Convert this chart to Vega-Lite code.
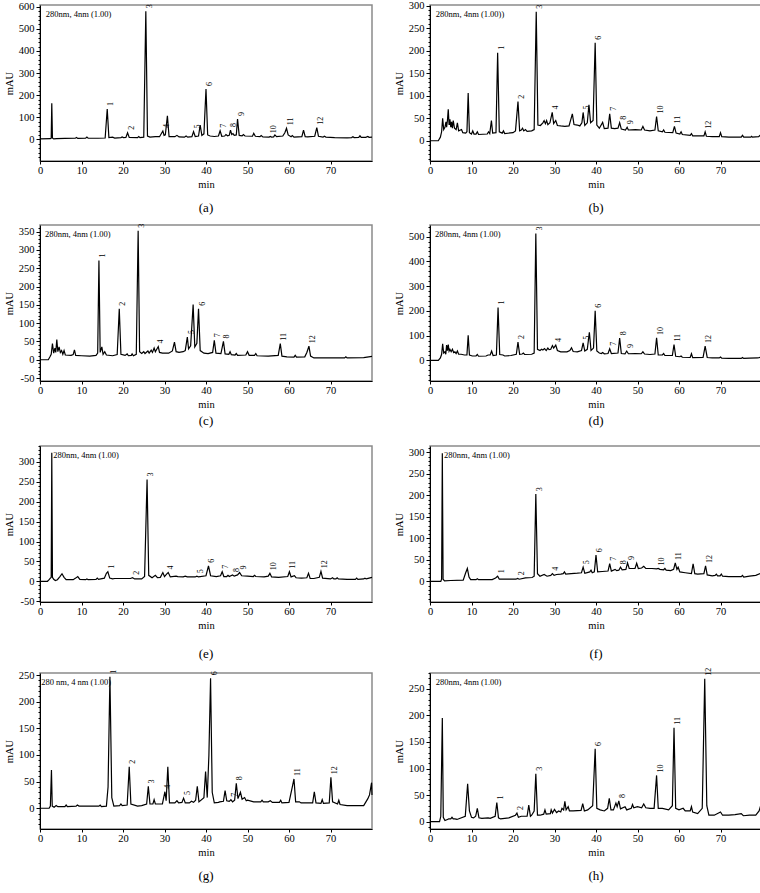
{
"$schema":"https://vega.github.io/schema/vega-lite/v6.json",
"padding":{"left":3,"top":0,"right":0,"bottom":0},
"config":{
 "font":"Liberation Serif",
 "view":{"stroke":"#8a8a8a","strokeWidth":1.5},
 "axis":{"labelFont":"Liberation Serif","labelFontSize":10.5,"labelColor":"#000","titleFont":"Liberation Serif","titleFontSize":10.5,"titleFontWeight":"normal","titleColor":"#000","domainColor":"#000","tickColor":"#000","grid":false,"labelOverlap":false},
 "axisX":{"tickSize":3,"labelPadding":1,"titlePadding":4,"labelFlush":false},
 "axisY":{"titlePadding":4,"labelPadding":2},
 "title":{"font":"Liberation Serif","fontSize":13,"fontWeight":"normal","orient":"bottom","offset":12,"color":"#000","anchor":"middle"},
 "line":{"color":"#000","strokeWidth":1.2},
 "text":{"font":"Liberation Serif","color":"#000"}
},
"datasets":{
"a":[{"t":0,"v":2},{"t":2.5,"v":3},{"t":2.7,"v":5},{"t":2.84,"v":163},{"t":3.0,"v":6},{"t":3.3,"v":2},{"t":4,"v":3},{"t":6,"v":4},{"t":8.5,"v":5},{"t":8.8,"v":8},{"t":9.1,"v":4},{"t":11,"v":5},{"t":11.3,"v":10},{"t":11.6,"v":5},{"t":14,"v":5},{"t":15.7,"v":6},{"t":16.2,"v":137},{"t":16.6,"v":8},{"t":17.5,"v":10},{"t":18,"v":6},{"t":19.5,"v":8},{"t":19.8,"v":11},{"t":20.1,"v":8},{"t":20.7,"v":9},{"t":21.1,"v":30},{"t":21.5,"v":9},{"t":23.5,"v":8},{"t":23.8,"v":13},{"t":24.1,"v":8},{"t":25.0,"v":10},{"t":25.5,"v":580},{"t":25.9,"v":15},{"t":26.5,"v":10},{"t":27.8,"v":12},{"t":28.8,"v":12},{"t":29.6,"v":38},{"t":29.9,"v":18},{"t":30.2,"v":20},{"t":30.7,"v":107},{"t":31.1,"v":12},{"t":32.5,"v":12},{"t":33,"v":18},{"t":33.5,"v":11},{"t":34.8,"v":10},{"t":35.2,"v":15},{"t":35.6,"v":10},{"t":36.6,"v":12},{"t":37.0,"v":35},{"t":37.4,"v":13},{"t":38.2,"v":15},{"t":38.6,"v":65},{"t":39.0,"v":18},{"t":39.5,"v":25},{"t":40.0,"v":228},{"t":40.4,"v":20},{"t":41,"v":15},{"t":42,"v":13},{"t":43.0,"v":15},{"t":43.4,"v":39},{"t":43.8,"v":14},{"t":44.5,"v":15},{"t":44.8,"v":22},{"t":45.2,"v":16},{"t":45.6,"v":18},{"t":45.9,"v":42},{"t":46.2,"v":22},{"t":46.5,"v":26},{"t":46.8,"v":18},{"t":47.3,"v":20},{"t":47.6,"v":92},{"t":48,"v":18},{"t":48.7,"v":16},{"t":49.0,"v":22},{"t":49.4,"v":15},{"t":51.2,"v":14},{"t":51.5,"v":27},{"t":51.9,"v":14},{"t":53,"v":12},{"t":53.3,"v":17},{"t":53.7,"v":11},{"t":55.2,"v":10},{"t":55.5,"v":13},{"t":55.8,"v":10},{"t":56.3,"v":11},{"t":56.6,"v":20},{"t":57,"v":12},{"t":58.5,"v":15},{"t":59.0,"v":30},{"t":59.4,"v":50},{"t":59.8,"v":20},{"t":60.5,"v":12},{"t":60.8,"v":17},{"t":61.2,"v":10},{"t":63.1,"v":12},{"t":63.5,"v":42},{"t":63.9,"v":12},{"t":64.5,"v":11},{"t":66.2,"v":14},{"t":66.7,"v":53},{"t":67.1,"v":14},{"t":68.2,"v":10},{"t":68.5,"v":14},{"t":68.9,"v":10},{"t":71,"v":8},{"t":74,"v":7},{"t":75.1,"v":8},{"t":75.4,"v":12},{"t":75.7,"v":8},{"t":76.8,"v":9},{"t":77.1,"v":16},{"t":77.4,"v":9},{"t":78.5,"v":9},{"t":79,"v":13},{"t":79.3,"v":9},{"t":80,"v":10}],
"la":[{"t":16.2,"v":137,"lab":"1"},{"t":21.1,"v":30,"lab":"2"},{"t":25.5,"v":580,"lab":"3"},{"t":29.6,"v":38,"lab":"4"},{"t":37.0,"v":35,"lab":"5"},{"t":40.0,"v":228,"lab":"6"},{"t":43.4,"v":39,"lab":"7"},{"t":45.9,"v":42,"lab":"8"},{"t":47.6,"v":92,"lab":"9"},{"t":55.5,"v":14,"lab":"10"},{"t":59.4,"v":50,"lab":"11"},{"t":66.7,"v":53,"lab":"12"}],
"b":[{"t":0,"v":0},{"t":2.0,"v":0},{"t":2.5,"v":8},{"t":2.8,"v":20},{"t":3.05,"v":50},{"t":3.3,"v":25},{"t":3.6,"v":30},{"t":3.85,"v":42},{"t":4.0,"v":30},{"t":4.2,"v":45},{"t":4.4,"v":70},{"t":4.6,"v":35},{"t":4.8,"v":48},{"t":5.0,"v":30},{"t":5.2,"v":42},{"t":5.4,"v":28},{"t":5.6,"v":45},{"t":5.9,"v":28},{"t":6.3,"v":25},{"t":6.6,"v":40},{"t":6.9,"v":22},{"t":7.6,"v":25},{"t":7.9,"v":18},{"t":8.6,"v":17},{"t":8.9,"v":20},{"t":9.2,"v":106},{"t":9.5,"v":18},{"t":10.0,"v":15},{"t":10.3,"v":22},{"t":10.6,"v":15},{"t":11.1,"v":15},{"t":11.4,"v":20},{"t":11.7,"v":14},{"t":13.8,"v":15},{"t":14.1,"v":20},{"t":14.4,"v":16},{"t":14.8,"v":45},{"t":15.1,"v":17},{"t":15.9,"v":18},{"t":16.3,"v":196},{"t":16.7,"v":20},{"t":17.4,"v":17},{"t":17.7,"v":22},{"t":18.0,"v":16},{"t":20.0,"v":18},{"t":20.6,"v":22},{"t":21.2,"v":87},{"t":21.6,"v":22},{"t":22.0,"v":24},{"t":22.3,"v":28},{"t":22.6,"v":22},{"t":23.0,"v":25},{"t":23.4,"v":21},{"t":24.5,"v":22},{"t":25.1,"v":25},{"t":25.6,"v":287},{"t":26.0,"v":35},{"t":26.6,"v":34},{"t":27.2,"v":40},{"t":27.5,"v":45},{"t":27.8,"v":38},{"t":28.1,"v":45},{"t":28.4,"v":36},{"t":28.9,"v":40},{"t":29.45,"v":63},{"t":29.8,"v":38},{"t":30.3,"v":45},{"t":30.7,"v":34},{"t":31.5,"v":33},{"t":32.5,"v":32},{"t":33.5,"v":33},{"t":34.3,"v":60},{"t":34.7,"v":36},{"t":35.5,"v":35},{"t":36.1,"v":33},{"t":36.6,"v":40},{"t":36.9,"v":63},{"t":37.3,"v":34},{"t":37.9,"v":40},{"t":38.3,"v":80},{"t":38.7,"v":40},{"t":39.3,"v":45},{"t":39.8,"v":218},{"t":40.2,"v":35},{"t":40.8,"v":28},{"t":41.6,"v":41},{"t":42,"v":27},{"t":42.9,"v":28},{"t":43.3,"v":60},{"t":43.7,"v":28},{"t":44.5,"v":27},{"t":45.3,"v":28},{"t":45.7,"v":40},{"t":46.1,"v":26},{"t":47.1,"v":24},{"t":47.5,"v":30},{"t":47.8,"v":24},{"t":49.5,"v":25},{"t":50.9,"v":24},{"t":51.3,"v":32},{"t":51.7,"v":24},{"t":53,"v":22},{"t":54.2,"v":24},{"t":54.6,"v":54},{"t":55,"v":22},{"t":56.0,"v":20},{"t":56.3,"v":24},{"t":56.6,"v":19},{"t":58.5,"v":18},{"t":58.9,"v":32},{"t":59.3,"v":17},{"t":60.2,"v":15},{"t":60.5,"v":20},{"t":60.8,"v":14},{"t":62.7,"v":12},{"t":63.0,"v":16},{"t":63.3,"v":11},{"t":66.0,"v":11},{"t":66.3,"v":20},{"t":66.6,"v":10},{"t":68,"v":9},{"t":69.7,"v":9},{"t":70.0,"v":18},{"t":70.3,"v":9},{"t":72,"v":8},{"t":75,"v":8},{"t":75.3,"v":12},{"t":75.6,"v":8},{"t":77.3,"v":8},{"t":77.5,"v":10},{"t":77.7,"v":8},{"t":79.2,"v":9},{"t":80,"v":17}],
"lb":[{"t":16.3,"v":196,"lab":"1"},{"t":21.2,"v":87,"lab":"2"},{"t":25.6,"v":287,"lab":"3"},{"t":29.45,"v":63,"lab":"4"},{"t":36.9,"v":63,"lab":"5"},{"t":39.8,"v":218,"lab":"6"},{"t":43.3,"v":60,"lab":"7"},{"t":45.7,"v":40,"lab":"8"},{"t":47.5,"v":30,"lab":"9"},{"t":54.6,"v":54,"lab":"10"},{"t":58.9,"v":32,"lab":"11"},{"t":66.3,"v":20,"lab":"12"}],
"c":[{"t":0,"v":0},{"t":2.0,"v":0},{"t":2.4,"v":8},{"t":2.7,"v":15},{"t":3.0,"v":44},{"t":3.3,"v":18},{"t":3.6,"v":32},{"t":3.8,"v":20},{"t":4.05,"v":55},{"t":4.3,"v":22},{"t":4.6,"v":35},{"t":4.9,"v":20},{"t":5.2,"v":25},{"t":5.5,"v":15},{"t":5.8,"v":25},{"t":6.1,"v":13},{"t":7.5,"v":12},{"t":8.0,"v":14},{"t":8.3,"v":27},{"t":8.6,"v":12},{"t":10,"v":11},{"t":12,"v":10},{"t":13.5,"v":12},{"t":13.9,"v":18},{"t":14.2,"v":271},{"t":14.5,"v":20},{"t":14.9,"v":35},{"t":15.2,"v":15},{"t":15.6,"v":22},{"t":16,"v":13},{"t":17.5,"v":11},{"t":18.6,"v":14},{"t":19.1,"v":139},{"t":19.5,"v":15},{"t":20.5,"v":12},{"t":21.0,"v":16},{"t":21.3,"v":11},{"t":22.0,"v":12},{"t":22.2,"v":16},{"t":22.5,"v":11},{"t":23.2,"v":15},{"t":23.65,"v":352},{"t":24.0,"v":22},{"t":24.5,"v":17},{"t":25.0,"v":22},{"t":25.3,"v":17},{"t":26.0,"v":24},{"t":26.3,"v":18},{"t":26.8,"v":26},{"t":27.1,"v":20},{"t":27.5,"v":32},{"t":27.8,"v":22},{"t":28.2,"v":30},{"t":28.5,"v":36},{"t":28.8,"v":20},{"t":29.5,"v":18},{"t":31.0,"v":18},{"t":31.9,"v":24},{"t":32.4,"v":48},{"t":32.8,"v":22},{"t":33.5,"v":20},{"t":34.5,"v":22},{"t":35.0,"v":25},{"t":35.5,"v":62},{"t":35.8,"v":30},{"t":36.3,"v":38},{"t":36.9,"v":151},{"t":37.3,"v":35},{"t":37.8,"v":45},{"t":38.2,"v":139},{"t":38.6,"v":25},{"t":39.5,"v":18},{"t":40.5,"v":17},{"t":41.6,"v":20},{"t":42.0,"v":53},{"t":42.4,"v":18},{"t":43.6,"v":17},{"t":44.2,"v":50},{"t":44.6,"v":16},{"t":45.5,"v":15},{"t":45.8,"v":22},{"t":46.1,"v":14},{"t":47.0,"v":13},{"t":47.3,"v":17},{"t":47.6,"v":12},{"t":49.6,"v":13},{"t":50.0,"v":22},{"t":50.4,"v":12},{"t":51.7,"v":12},{"t":52.0,"v":17},{"t":52.3,"v":11},{"t":55,"v":10},{"t":57.4,"v":12},{"t":57.9,"v":44},{"t":58.3,"v":10},{"t":59.5,"v":8},{"t":61.2,"v":7},{"t":61.5,"v":12},{"t":61.8,"v":7},{"t":63.8,"v":8},{"t":64.3,"v":20},{"t":64.8,"v":37},{"t":65.2,"v":10},{"t":66,"v":5},{"t":70,"v":5},{"t":73.4,"v":5},{"t":73.7,"v":8},{"t":74.0,"v":5},{"t":78,"v":6},{"t":80,"v":9}],
"lc":[{"t":14.2,"v":271,"lab":"1"},{"t":19.1,"v":139,"lab":"2"},{"t":23.65,"v":352,"lab":"3"},{"t":28.3,"v":36,"lab":"4"},{"t":35.6,"v":62,"lab":"5"},{"t":38.2,"v":139,"lab":"6"},{"t":42.0,"v":53,"lab":"7"},{"t":44.2,"v":50,"lab":"8"},{"t":57.9,"v":44,"lab":"11"},{"t":64.8,"v":37,"lab":"12"}],
"d":[{"t":0,"v":0},{"t":2.0,"v":0},{"t":2.5,"v":10},{"t":2.8,"v":25},{"t":3.05,"v":67},{"t":3.3,"v":30},{"t":3.6,"v":35},{"t":3.8,"v":25},{"t":4.0,"v":62},{"t":4.2,"v":40},{"t":4.4,"v":64},{"t":4.6,"v":38},{"t":4.8,"v":45},{"t":5.1,"v":35},{"t":5.4,"v":45},{"t":5.7,"v":32},{"t":6.0,"v":35},{"t":6.3,"v":28},{"t":6.6,"v":38},{"t":6.9,"v":25},{"t":7.5,"v":25},{"t":8.3,"v":22},{"t":8.9,"v":22},{"t":9.2,"v":102},{"t":9.5,"v":22},{"t":10.2,"v":18},{"t":11.1,"v":18},{"t":11.4,"v":24},{"t":11.7,"v":17},{"t":13.5,"v":18},{"t":14.0,"v":22},{"t":14.5,"v":22},{"t":14.85,"v":38},{"t":15.2,"v":20},{"t":16.0,"v":22},{"t":16.4,"v":214},{"t":16.8,"v":24},{"t":17.6,"v":22},{"t":18.0,"v":18},{"t":19.5,"v":20},{"t":20.8,"v":25},{"t":21.2,"v":74},{"t":21.6,"v":25},{"t":22.2,"v":26},{"t":22.5,"v":30},{"t":22.8,"v":24},{"t":24.5,"v":25},{"t":25.1,"v":30},{"t":25.5,"v":513},{"t":25.9,"v":45},{"t":26.5,"v":40},{"t":26.9,"v":45},{"t":27.2,"v":42},{"t":27.6,"v":48},{"t":28.0,"v":40},{"t":28.4,"v":50},{"t":28.7,"v":44},{"t":29.1,"v":45},{"t":29.5,"v":60},{"t":29.8,"v":50},{"t":30.3,"v":62},{"t":30.7,"v":40},{"t":31.5,"v":35},{"t":33.0,"v":35},{"t":33.7,"v":40},{"t":34.1,"v":51},{"t":34.5,"v":36},{"t":35.5,"v":35},{"t":36.5,"v":40},{"t":36.9,"v":71},{"t":37.3,"v":38},{"t":37.9,"v":45},{"t":38.4,"v":114},{"t":38.8,"v":40},{"t":39.4,"v":50},{"t":39.8,"v":201},{"t":40.2,"v":38},{"t":40.8,"v":30},{"t":41.3,"v":28},{"t":41.6,"v":32},{"t":42,"v":27},{"t":42.9,"v":28},{"t":43.3,"v":47},{"t":43.7,"v":28},{"t":45.3,"v":30},{"t":45.7,"v":90},{"t":46.1,"v":28},{"t":47.0,"v":27},{"t":47.4,"v":38},{"t":47.8,"v":27},{"t":49.5,"v":28},{"t":50.9,"v":27},{"t":51.3,"v":35},{"t":51.7,"v":26},{"t":53,"v":24},{"t":54.2,"v":26},{"t":54.6,"v":91},{"t":55,"v":22},{"t":56.0,"v":22},{"t":56.3,"v":28},{"t":56.6,"v":20},{"t":58.4,"v":20},{"t":58.8,"v":64},{"t":59.2,"v":17},{"t":60.2,"v":15},{"t":60.5,"v":18},{"t":60.8,"v":13},{"t":62.7,"v":12},{"t":63.0,"v":27},{"t":63.3,"v":11},{"t":65.8,"v":12},{"t":66.3,"v":58},{"t":66.8,"v":12},{"t":68,"v":10},{"t":69.7,"v":10},{"t":70.0,"v":14},{"t":70.3,"v":9},{"t":72,"v":8},{"t":75,"v":8},{"t":75.3,"v":12},{"t":75.6,"v":8},{"t":77,"v":9},{"t":79,"v":10},{"t":80,"v":15}],
"ld":[{"t":16.4,"v":214,"lab":"1"},{"t":21.2,"v":74,"lab":"2"},{"t":25.5,"v":513,"lab":"3"},{"t":30.2,"v":62,"lab":"4"},{"t":36.9,"v":71,"lab":"5"},{"t":39.8,"v":201,"lab":"6"},{"t":43.3,"v":47,"lab":"7"},{"t":45.7,"v":90,"lab":"8"},{"t":47.4,"v":38,"lab":"9"},{"t":54.6,"v":91,"lab":"10"},{"t":58.8,"v":64,"lab":"11"},{"t":66.3,"v":58,"lab":"12"}],
"e":[{"t":0,"v":0},{"t":1.8,"v":0},{"t":2.2,"v":4},{"t":2.5,"v":8},{"t":2.7,"v":10},{"t":2.84,"v":323},{"t":3.0,"v":10},{"t":3.3,"v":5},{"t":3.7,"v":2},{"t":4.2,"v":4},{"t":4.8,"v":12},{"t":5.3,"v":19},{"t":5.8,"v":10},{"t":6.3,"v":4},{"t":8.0,"v":4},{"t":8.6,"v":8},{"t":9.1,"v":12},{"t":9.6,"v":5},{"t":11.0,"v":4},{"t":11.3,"v":6},{"t":11.6,"v":4},{"t":13.5,"v":5},{"t":13.8,"v":8},{"t":14.1,"v":5},{"t":15.5,"v":8},{"t":16.0,"v":20},{"t":16.35,"v":24},{"t":16.8,"v":8},{"t":17.5,"v":6},{"t":18.0,"v":7},{"t":20.5,"v":7},{"t":21.8,"v":7},{"t":22.3,"v":9},{"t":22.8,"v":6},{"t":24.5,"v":6},{"t":25.2,"v":12},{"t":25.8,"v":256},{"t":26.2,"v":15},{"t":27.0,"v":9},{"t":27.8,"v":15},{"t":28.3,"v":9},{"t":29.0,"v":10},{"t":29.6,"v":22},{"t":30.0,"v":12},{"t":30.5,"v":18},{"t":30.9,"v":22},{"t":31.4,"v":11},{"t":32.8,"v":13},{"t":33.2,"v":12},{"t":34.5,"v":11},{"t":35.0,"v":13},{"t":35.5,"v":11},{"t":37.4,"v":11},{"t":37.8,"v":13},{"t":38.2,"v":11},{"t":40.0,"v":14},{"t":40.6,"v":39},{"t":41.1,"v":14},{"t":42.5,"v":12},{"t":43.5,"v":14},{"t":43.9,"v":24},{"t":44.3,"v":12},{"t":45.0,"v":12},{"t":45.3,"v":15},{"t":45.6,"v":12},{"t":46.4,"v":16},{"t":46.8,"v":13},{"t":47.6,"v":16},{"t":48.1,"v":22},{"t":48.6,"v":14},{"t":50.0,"v":13},{"t":51.4,"v":12},{"t":51.7,"v":15},{"t":52.0,"v":12},{"t":54,"v":11},{"t":55.0,"v":13},{"t":55.4,"v":20},{"t":55.8,"v":11},{"t":57.5,"v":10},{"t":59.7,"v":12},{"t":60.1,"v":24},{"t":60.5,"v":11},{"t":61.3,"v":14},{"t":61.7,"v":9},{"t":63,"v":8},{"t":64.3,"v":9},{"t":64.7,"v":20},{"t":65.1,"v":7},{"t":66,"v":7},{"t":67.3,"v":10},{"t":67.7,"v":25},{"t":68.1,"v":8},{"t":70.0,"v":6},{"t":70.5,"v":9},{"t":70.8,"v":6},{"t":71.3,"v":6},{"t":71.6,"v":9},{"t":71.9,"v":6},{"t":74,"v":5},{"t":76.0,"v":5},{"t":76.3,"v":8},{"t":76.6,"v":5},{"t":78.0,"v":6},{"t":78.3,"v":8},{"t":78.6,"v":6},{"t":79.3,"v":8},{"t":80,"v":10}],
"le":[{"t":16.35,"v":24,"lab":"1"},{"t":22.3,"v":9,"lab":"2"},{"t":25.8,"v":256,"lab":"3"},{"t":30.7,"v":22,"lab":"4"},{"t":37.8,"v":13,"lab":"5"},{"t":40.6,"v":39,"lab":"6"},{"t":43.9,"v":24,"lab":"7"},{"t":46.4,"v":16,"lab":"8"},{"t":48.1,"v":22,"lab":"9"},{"t":55.4,"v":20,"lab":"10"},{"t":60.1,"v":24,"lab":"11"},{"t":67.7,"v":25,"lab":"12"}],
"f":[{"t":0,"v":0},{"t":2.6,"v":0},{"t":2.8,"v":5},{"t":2.97,"v":298},{"t":3.15,"v":5},{"t":3.5,"v":1},{"t":5,"v":2},{"t":8.0,"v":3},{"t":8.6,"v":20},{"t":9.0,"v":30},{"t":9.4,"v":10},{"t":9.8,"v":4},{"t":11.1,"v":4},{"t":11.4,"v":6},{"t":11.7,"v":4},{"t":15.0,"v":4},{"t":15.8,"v":8},{"t":16.3,"v":12},{"t":16.7,"v":5},{"t":19.0,"v":5},{"t":20.7,"v":5},{"t":21.1,"v":7},{"t":21.5,"v":5},{"t":23.0,"v":8},{"t":24.6,"v":9},{"t":25.1,"v":12},{"t":25.5,"v":203},{"t":25.9,"v":18},{"t":26.5,"v":12},{"t":27.5,"v":16},{"t":28.2,"v":12},{"t":29.1,"v":14},{"t":29.5,"v":18},{"t":29.9,"v":14},{"t":30.5,"v":16},{"t":31.5,"v":17},{"t":32.1,"v":18},{"t":32.4,"v":22},{"t":32.7,"v":17},{"t":34.0,"v":18},{"t":35.5,"v":19},{"t":36.5,"v":20},{"t":36.9,"v":33},{"t":37.3,"v":19},{"t":38.5,"v":22},{"t":38.8,"v":26},{"t":39.1,"v":20},{"t":39.6,"v":22},{"t":40.0,"v":61},{"t":40.4,"v":22},{"t":41.5,"v":23},{"t":42.9,"v":24},{"t":43.3,"v":41},{"t":43.7,"v":24},{"t":44.6,"v":28},{"t":45.0,"v":25},{"t":45.5,"v":26},{"t":45.9,"v":33},{"t":46.3,"v":27},{"t":47.2,"v":28},{"t":47.6,"v":43},{"t":48.0,"v":30},{"t":49.4,"v":30},{"t":49.8,"v":42},{"t":50.2,"v":30},{"t":51.0,"v":31},{"t":51.5,"v":35},{"t":52.0,"v":30},{"t":53.5,"v":30},{"t":54.6,"v":29},{"t":55.0,"v":30},{"t":55.4,"v":28},{"t":56.3,"v":27},{"t":56.6,"v":30},{"t":56.9,"v":26},{"t":58.0,"v":25},{"t":58.7,"v":28},{"t":59.1,"v":43},{"t":59.5,"v":28},{"t":59.8,"v":33},{"t":60.2,"v":22},{"t":61.5,"v":20},{"t":63.0,"v":18},{"t":63.4,"v":41},{"t":63.8,"v":18},{"t":64.5,"v":17},{"t":66.0,"v":18},{"t":66.4,"v":36},{"t":66.8,"v":15},{"t":68.0,"v":13},{"t":68.7,"v":14},{"t":69.0,"v":17},{"t":69.3,"v":13},{"t":69.9,"v":13},{"t":70.2,"v":17},{"t":70.5,"v":12},{"t":72,"v":11},{"t":75.0,"v":11},{"t":75.3,"v":14},{"t":75.6,"v":10},{"t":77.0,"v":12},{"t":78.5,"v":14},{"t":80,"v":20}],
"lf":[{"t":16.3,"v":12,"lab":"1"},{"t":21.1,"v":7,"lab":"2"},{"t":25.5,"v":203,"lab":"3"},{"t":29.5,"v":18,"lab":"4"},{"t":36.9,"v":33,"lab":"5"},{"t":40.0,"v":61,"lab":"6"},{"t":43.3,"v":41,"lab":"7"},{"t":45.9,"v":33,"lab":"8"},{"t":47.6,"v":43,"lab":"9"},{"t":55.0,"v":30,"lab":"10"},{"t":59.1,"v":43,"lab":"11"},{"t":66.4,"v":36,"lab":"12"}],
"g":[{"t":0,"v":0},{"t":2.2,"v":0},{"t":2.5,"v":4},{"t":2.76,"v":72},{"t":2.95,"v":4},{"t":3.4,"v":2},{"t":3.9,"v":5},{"t":4.3,"v":3},{"t":6.0,"v":3},{"t":6.3,"v":6},{"t":6.6,"v":3},{"t":8.7,"v":4},{"t":9.0,"v":6},{"t":9.4,"v":4},{"t":14.2,"v":4},{"t":14.5,"v":6},{"t":14.8,"v":3},{"t":16.0,"v":4},{"t":16.4,"v":40},{"t":16.85,"v":247},{"t":17.3,"v":20},{"t":17.8,"v":4},{"t":19.2,"v":5},{"t":19.5,"v":8},{"t":19.8,"v":5},{"t":21.0,"v":6},{"t":21.5,"v":78},{"t":21.9,"v":8},{"t":23.5,"v":4},{"t":24.5,"v":5},{"t":25.7,"v":8},{"t":26.1,"v":41},{"t":26.5,"v":8},{"t":27.2,"v":8},{"t":27.5,"v":16},{"t":27.8,"v":8},{"t":29.5,"v":8},{"t":30.1,"v":31},{"t":30.4,"v":14},{"t":30.8,"v":78},{"t":31.2,"v":10},{"t":32.5,"v":10},{"t":33.0,"v":14},{"t":33.4,"v":10},{"t":34.2,"v":11},{"t":34.6,"v":19},{"t":35.0,"v":10},{"t":36.0,"v":10},{"t":36.5,"v":13},{"t":37.0,"v":11},{"t":37.5,"v":15},{"t":37.9,"v":41},{"t":38.3,"v":12},{"t":39.5,"v":20},{"t":39.9,"v":69},{"t":40.3,"v":20},{"t":40.7,"v":100},{"t":41.1,"v":244},{"t":41.5,"v":30},{"t":42.0,"v":10},{"t":43.0,"v":11},{"t":43.3,"v":12},{"t":44.2,"v":13},{"t":44.6,"v":33},{"t":45.0,"v":14},{"t":45.6,"v":13},{"t":46.0,"v":16},{"t":46.4,"v":12},{"t":46.9,"v":15},{"t":47.3,"v":47},{"t":47.7,"v":18},{"t":48.3,"v":30},{"t":48.7,"v":17},{"t":49.3,"v":20},{"t":49.7,"v":14},{"t":50.0,"v":15},{"t":51.5,"v":12},{"t":53.2,"v":12},{"t":53.5,"v":15},{"t":53.8,"v":12},{"t":55.0,"v":12},{"t":55.5,"v":14},{"t":56,"v":11},{"t":57.7,"v":11},{"t":58.0,"v":15},{"t":58.3,"v":10},{"t":60.0,"v":11},{"t":60.8,"v":40},{"t":61.2,"v":55},{"t":61.6,"v":12},{"t":62.5,"v":12},{"t":62.9,"v":10},{"t":65.7,"v":10},{"t":66.1,"v":31},{"t":66.5,"v":10},{"t":67.7,"v":9},{"t":68.0,"v":16},{"t":68.3,"v":9},{"t":69.7,"v":10},{"t":70.1,"v":58},{"t":70.5,"v":12},{"t":71.7,"v":8},{"t":72.0,"v":15},{"t":72.3,"v":7},{"t":74,"v":5},{"t":78.0,"v":5},{"t":79.0,"v":18},{"t":79.4,"v":25},{"t":79.9,"v":48},{"t":80,"v":25}],
"lg":[{"t":16.85,"v":247,"lab":"1"},{"t":21.5,"v":78,"lab":"2"},{"t":26.1,"v":41,"lab":"3"},{"t":29.8,"v":31,"lab":"4"},{"t":34.8,"v":19,"lab":"5"},{"t":41.1,"v":244,"lab":"6"},{"t":46.0,"v":16,"lab":"7"},{"t":47.3,"v":47,"lab":"8"},{"t":61.2,"v":55,"lab":"11"},{"t":70.1,"v":58,"lab":"12"}],
"h":[{"t":0,"v":0},{"t":2.3,"v":0},{"t":2.6,"v":10},{"t":2.97,"v":195},{"t":3.2,"v":8},{"t":3.6,"v":2},{"t":4.2,"v":4},{"t":4.5,"v":5},{"t":5.0,"v":5},{"t":5.3,"v":8},{"t":5.6,"v":5},{"t":6.0,"v":5},{"t":6.5,"v":4},{"t":8.5,"v":10},{"t":9.07,"v":71},{"t":9.5,"v":20},{"t":10.0,"v":8},{"t":10.5,"v":7},{"t":11.0,"v":10},{"t":11.4,"v":25},{"t":11.8,"v":7},{"t":12.5,"v":6},{"t":14.0,"v":7},{"t":14.5,"v":6},{"t":15.7,"v":10},{"t":16.1,"v":36},{"t":16.5,"v":7},{"t":17.0,"v":5},{"t":19.0,"v":7},{"t":20.6,"v":12},{"t":20.95,"v":16},{"t":21.3,"v":8},{"t":22.0,"v":10},{"t":23.4,"v":10},{"t":23.8,"v":31},{"t":24.2,"v":10},{"t":24.5,"v":12},{"t":25.1,"v":20},{"t":25.5,"v":90},{"t":25.9,"v":12},{"t":26.5,"v":12},{"t":27.4,"v":14},{"t":27.7,"v":22},{"t":28.0,"v":14},{"t":29.0,"v":15},{"t":29.2,"v":22},{"t":29.5,"v":16},{"t":30.0,"v":23},{"t":30.5,"v":17},{"t":31.0,"v":20},{"t":31.5,"v":18},{"t":31.8,"v":25},{"t":32.2,"v":22},{"t":32.5,"v":38},{"t":32.8,"v":22},{"t":33.3,"v":28},{"t":33.6,"v":20},{"t":34.5,"v":20},{"t":36.4,"v":21},{"t":36.8,"v":34},{"t":37.2,"v":20},{"t":38.0,"v":22},{"t":39.2,"v":30},{"t":39.8,"v":137},{"t":40.2,"v":25},{"t":41.0,"v":22},{"t":42.0,"v":20},{"t":42.8,"v":25},{"t":43.2,"v":44},{"t":43.6,"v":22},{"t":44.2,"v":22},{"t":44.8,"v":35},{"t":45.1,"v":28},{"t":45.5,"v":39},{"t":45.9,"v":24},{"t":47.0,"v":28},{"t":47.4,"v":22},{"t":48.5,"v":25},{"t":48.8,"v":32},{"t":49.1,"v":26},{"t":50.0,"v":28},{"t":51.0,"v":26},{"t":51.5,"v":33},{"t":52.0,"v":26},{"t":53.0,"v":25},{"t":54.0,"v":25},{"t":54.6,"v":87},{"t":55.0,"v":25},{"t":56.0,"v":25},{"t":57.5,"v":22},{"t":58.4,"v":30},{"t":58.8,"v":177},{"t":59.2,"v":25},{"t":60.0,"v":22},{"t":61.0,"v":25},{"t":61.5,"v":20},{"t":62.7,"v":20},{"t":63.0,"v":28},{"t":63.3,"v":18},{"t":64.5,"v":15},{"t":65.6,"v":25},{"t":66.2,"v":269},{"t":66.7,"v":30},{"t":67.2,"v":12},{"t":68.5,"v":12},{"t":70.0,"v":18},{"t":70.5,"v":12},{"t":72.0,"v":12},{"t":73.5,"v":13},{"t":75.0,"v":15},{"t":75.5,"v":11},{"t":77.0,"v":12},{"t":78.5,"v":12},{"t":79.3,"v":20},{"t":79.6,"v":28},{"t":80,"v":22}],
"lh":[{"t":16.1,"v":36,"lab":"1"},{"t":20.95,"v":16,"lab":"2"},{"t":25.5,"v":90,"lab":"3"},{"t":39.8,"v":137,"lab":"6"},{"t":45.5,"v":39,"lab":"8"},{"t":54.6,"v":87,"lab":"10"},{"t":58.8,"v":177,"lab":"11"},{"t":66.2,"v":269,"lab":"12"}]
},
"spacing":11,
"vconcat":[
{"spacing":4,"vconcat":[
{"spacing":17,"hconcat":[
{"width":332,"height":156,"title":{"text":"(a)"},
 "layer":[
  {"encoding":{"x":{"field":"t","type":"quantitative","scale":{"domain":[0,80],"nice":false,"zero":false},"axis":{"title":"min","values":[0,10,20,30,40,50,60,70]}},
   "y":{"field":"v","type":"quantitative","scale":{"domain":[-98,608],"nice":false,"zero":false},"axis":{"title":"mAU","values":[-80,-60,-40,-20,0,20,40,60,80,100,120,140,160,180,200,220,240,260,280,300,320,340,360,380,400,420,440,460,480,500,520,540,560,580,600],"labelExpr":"datum.value % 100 === 0 ? toString(datum.value) : ''","tickSize":{"condition":{"test":"datum.value % 100 === 0","value":4},"value":2}}}},
   "layer":[
    {"data":{"name":"a"},"mark":{"type":"line"}},
    {"data":{"name":"la"},"mark":{"type":"text","angle":270,"align":"left","baseline":"top","dx":3,"fontSize":8},"encoding":{"text":{"field":"lab"}}}
   ]},
  {"data":{"values":[{"note":"280nm, 4nm (1.00)"}]},"mark":{"type":"text","align":"left","baseline":"top","dy":5,"fontSize":8.5},
   "encoding":{"x":{"datum":1.4,"type":"quantitative","axis":{"title":"min","values":[0,10,20,30,40,50,60,70]}},
   "y":{"datum":608,"type":"quantitative","axis":{"title":"mAU","values":[-80,-60,-40,-20,0,20,40,60,80,100,120,140,160,180,200,220,240,260,280,300,320,340,360,380,400,420,440,460,480,500,520,540,560,580,600],"labelExpr":"datum.value % 100 === 0 ? toString(datum.value) : ''","tickSize":{"condition":{"test":"datum.value % 100 === 0","value":4},"value":2}}},
   "text":{"field":"note"}}}
 ]},
{"width":332,"height":156,"title":{"text":"(b)"},
 "layer":[
  {"encoding":{"x":{"field":"t","type":"quantitative","scale":{"domain":[0,80],"nice":false,"zero":false},"axis":{"title":"min","values":[0,10,20,30,40,50,60,70]}},
   "y":{"field":"v","type":"quantitative","scale":{"domain":[-45,302],"nice":false,"zero":false},"axis":{"title":"mAU","values":[-40,-30,-20,-10,0,10,20,30,40,50,60,70,80,90,100,110,120,130,140,150,160,170,180,190,200,210,220,230,240,250,260,270,280,290,300],"labelExpr":"datum.value % 50 === 0 ? toString(datum.value) : ''","tickSize":{"condition":{"test":"datum.value % 50 === 0","value":4},"value":2}}}},
   "layer":[
    {"data":{"name":"b"},"mark":{"type":"line"}},
    {"data":{"name":"lb"},"mark":{"type":"text","angle":270,"align":"left","baseline":"top","dx":3,"fontSize":8},"encoding":{"text":{"field":"lab"}}}
   ]},
  {"data":{"values":[{"note":"280nm, 4nm (1.00))"}]},"mark":{"type":"text","align":"left","baseline":"top","dy":5,"fontSize":8.5},
   "encoding":{"x":{"datum":1.4,"type":"quantitative","axis":{"title":"min","values":[0,10,20,30,40,50,60,70]}},
   "y":{"datum":302,"type":"quantitative","axis":{"title":"mAU","values":[-40,-30,-20,-10,0,10,20,30,40,50,60,70,80,90,100,110,120,130,140,150,160,170,180,190,200,210,220,230,240,250,260,270,280,290,300],"labelExpr":"datum.value % 50 === 0 ? toString(datum.value) : ''","tickSize":{"condition":{"test":"datum.value % 50 === 0","value":4},"value":2}}},
   "text":{"field":"note"}}}
 ]}
]},
{"spacing":17,"hconcat":[
{"width":332,"height":156,"title":{"text":"(c)","offset":5},
 "layer":[
  {"encoding":{"x":{"field":"t","type":"quantitative","scale":{"domain":[0,80],"nice":false,"zero":false},"axis":{"title":"min","values":[0,10,20,30,40,50,60,70]}},
   "y":{"field":"v","type":"quantitative","scale":{"domain":[-58,368],"nice":false,"zero":false},"axis":{"title":"mAU","values":[-50,-40,-30,-20,-10,0,10,20,30,40,50,60,70,80,90,100,110,120,130,140,150,160,170,180,190,200,210,220,230,240,250,260,270,280,290,300,310,320,330,340,350,360],"labelExpr":"datum.value % 50 === 0 ? toString(datum.value) : ''","tickSize":{"condition":{"test":"datum.value % 50 === 0","value":4},"value":2}}}},
   "layer":[
    {"data":{"name":"c"},"mark":{"type":"line"}},
    {"data":{"name":"lc"},"mark":{"type":"text","angle":270,"align":"left","baseline":"top","dx":3,"fontSize":8},"encoding":{"text":{"field":"lab"}}}
   ]},
  {"data":{"values":[{"note":"280nm, 4nm (1.00)"}]},"mark":{"type":"text","align":"left","baseline":"top","dy":5,"fontSize":8.5},
   "encoding":{"x":{"datum":1.2,"type":"quantitative","axis":{"title":"min","values":[0,10,20,30,40,50,60,70]}},
   "y":{"datum":368,"type":"quantitative","axis":{"title":"mAU","values":[-50,-40,-30,-20,-10,0,10,20,30,40,50,60,70,80,90,100,110,120,130,140,150,160,170,180,190,200,210,220,230,240,250,260,270,280,290,300,310,320,330,340,350,360],"labelExpr":"datum.value % 50 === 0 ? toString(datum.value) : ''","tickSize":{"condition":{"test":"datum.value % 50 === 0","value":4},"value":2}}},
   "text":{"field":"note"}}}
 ]},
{"width":332,"height":156,"title":{"text":"(d)","offset":5},
 "layer":[
  {"encoding":{"x":{"field":"t","type":"quantitative","scale":{"domain":[0,80],"nice":false,"zero":false},"axis":{"title":"min","values":[0,10,20,30,40,50,60,70]}},
   "y":{"field":"v","type":"quantitative","scale":{"domain":[-83,547],"nice":false,"zero":false},"axis":{"title":"mAU","values":[-80,-60,-40,-20,0,20,40,60,80,100,120,140,160,180,200,220,240,260,280,300,320,340,360,380,400,420,440,460,480,500,520,540],"labelExpr":"datum.value % 100 === 0 ? toString(datum.value) : ''","tickSize":{"condition":{"test":"datum.value % 100 === 0","value":4},"value":2}}}},
   "layer":[
    {"data":{"name":"d"},"mark":{"type":"line"}},
    {"data":{"name":"ld"},"mark":{"type":"text","angle":270,"align":"left","baseline":"top","dx":3,"fontSize":8},"encoding":{"text":{"field":"lab"}}}
   ]},
  {"data":{"values":[{"note":"280nm, 4nm (1.00)"}]},"mark":{"type":"text","align":"left","baseline":"top","dy":5,"fontSize":8.5},
   "encoding":{"x":{"datum":1.2,"type":"quantitative","axis":{"title":"min","values":[0,10,20,30,40,50,60,70]}},
   "y":{"datum":547,"type":"quantitative","axis":{"title":"mAU","values":[-80,-60,-40,-20,0,20,40,60,80,100,120,140,160,180,200,220,240,260,280,300,320,340,360,380,400,420,440,460,480,500,520,540],"labelExpr":"datum.value % 100 === 0 ? toString(datum.value) : ''","tickSize":{"condition":{"test":"datum.value % 100 === 0","value":4},"value":2}}},
   "text":{"field":"note"}}}
 ]}
]}
]},
{"spacing":5,"vconcat":[
{"spacing":17,"hconcat":[
{"width":332,"height":156,"title":{"text":"(e)","offset":17},
 "layer":[
  {"encoding":{"x":{"field":"t","type":"quantitative","scale":{"domain":[0,80],"nice":false,"zero":false},"axis":{"title":"min","values":[0,10,20,30,40,50,60,70]}},
   "y":{"field":"v","type":"quantitative","scale":{"domain":[-52,340],"nice":false,"zero":false},"axis":{"title":"mAU","values":[-50,-40,-30,-20,-10,0,10,20,30,40,50,60,70,80,90,100,110,120,130,140,150,160,170,180,190,200,210,220,230,240,250,260,270,280,290,300,310,320,330,340],"labelExpr":"datum.value % 50 === 0 ? toString(datum.value) : ''","tickSize":{"condition":{"test":"datum.value % 50 === 0","value":4},"value":2}}}},
   "layer":[
    {"data":{"name":"e"},"mark":{"type":"line"}},
    {"data":{"name":"le"},"mark":{"type":"text","angle":270,"align":"left","baseline":"top","dx":3,"fontSize":8},"encoding":{"text":{"field":"lab"}}}
   ]},
  {"data":{"values":[{"note":"280nm, 4nm (1.00)"}]},"mark":{"type":"text","align":"left","baseline":"top","dy":5,"fontSize":8.5},
   "encoding":{"x":{"datum":3.2,"type":"quantitative","axis":{"title":"min","values":[0,10,20,30,40,50,60,70]}},
   "y":{"datum":340,"type":"quantitative","axis":{"title":"mAU","values":[-50,-40,-30,-20,-10,0,10,20,30,40,50,60,70,80,90,100,110,120,130,140,150,160,170,180,190,200,210,220,230,240,250,260,270,280,290,300,310,320,330,340],"labelExpr":"datum.value % 50 === 0 ? toString(datum.value) : ''","tickSize":{"condition":{"test":"datum.value % 50 === 0","value":4},"value":2}}},
   "text":{"field":"note"}}}
 ]},
{"width":332,"height":156,"title":{"text":"(f)","offset":17},
 "layer":[
  {"encoding":{"x":{"field":"t","type":"quantitative","scale":{"domain":[0,80],"nice":false,"zero":false},"axis":{"title":"min","values":[0,10,20,30,40,50,60,70]}},
   "y":{"field":"v","type":"quantitative","scale":{"domain":[-48,315],"nice":false,"zero":false},"axis":{"title":"mAU","values":[-40,-30,-20,-10,0,10,20,30,40,50,60,70,80,90,100,110,120,130,140,150,160,170,180,190,200,210,220,230,240,250,260,270,280,290,300,310],"labelExpr":"datum.value % 50 === 0 ? toString(datum.value) : ''","tickSize":{"condition":{"test":"datum.value % 50 === 0","value":4},"value":2}}}},
   "layer":[
    {"data":{"name":"f"},"mark":{"type":"line"}},
    {"data":{"name":"lf"},"mark":{"type":"text","angle":270,"align":"left","baseline":"top","dx":3,"fontSize":8},"encoding":{"text":{"field":"lab"}}}
   ]},
  {"data":{"values":[{"note":"280nm, 4nm (1.00)"}]},"mark":{"type":"text","align":"left","baseline":"top","dy":5,"fontSize":8.5},
   "encoding":{"x":{"datum":3.4,"type":"quantitative","axis":{"title":"min","values":[0,10,20,30,40,50,60,70]}},
   "y":{"datum":315,"type":"quantitative","axis":{"title":"mAU","values":[-40,-30,-20,-10,0,10,20,30,40,50,60,70,80,90,100,110,120,130,140,150,160,170,180,190,200,210,220,230,240,250,260,270,280,290,300,310],"labelExpr":"datum.value % 50 === 0 ? toString(datum.value) : ''","tickSize":{"condition":{"test":"datum.value % 50 === 0","value":4},"value":2}}},
   "text":{"field":"note"}}}
 ]}
]},
{"spacing":17,"hconcat":[
{"width":332,"height":156,"title":{"text":"(g)"},
 "layer":[
  {"encoding":{"x":{"field":"t","type":"quantitative","scale":{"domain":[0,80],"nice":false,"zero":false},"axis":{"title":"min","values":[0,10,20,30,40,50,60,70]}},
   "y":{"field":"v","type":"quantitative","scale":{"domain":[-39,254],"nice":false,"zero":false},"axis":{"title":"mAU","values":[-30,-20,-10,0,10,20,30,40,50,60,70,80,90,100,110,120,130,140,150,160,170,180,190,200,210,220,230,240,250],"labelExpr":"datum.value % 50 === 0 ? toString(datum.value) : ''","tickSize":{"condition":{"test":"datum.value % 50 === 0","value":4},"value":2}}}},
   "layer":[
    {"data":{"name":"g"},"mark":{"type":"line"}},
    {"data":{"name":"lg"},"mark":{"type":"text","angle":270,"align":"left","baseline":"top","dx":3,"fontSize":8},"encoding":{"text":{"field":"lab"}}}
   ]},
  {"data":{"values":[{"note":"280 nm, 4 nm (1.00)"}]},"mark":{"type":"text","align":"left","baseline":"top","dy":5,"fontSize":8.5},
   "encoding":{"x":{"datum":0.3,"type":"quantitative","axis":{"title":"min","values":[0,10,20,30,40,50,60,70]}},
   "y":{"datum":254,"type":"quantitative","axis":{"title":"mAU","values":[-30,-20,-10,0,10,20,30,40,50,60,70,80,90,100,110,120,130,140,150,160,170,180,190,200,210,220,230,240,250],"labelExpr":"datum.value % 50 === 0 ? toString(datum.value) : ''","tickSize":{"condition":{"test":"datum.value % 50 === 0","value":4},"value":2}}},
   "text":{"field":"note"}}}
 ]},
{"width":332,"height":156,"title":{"text":"(h)"},
 "layer":[
  {"encoding":{"x":{"field":"t","type":"quantitative","scale":{"domain":[0,80],"nice":false,"zero":false},"axis":{"title":"min","values":[0,10,20,30,40,50,60,70]}},
   "y":{"field":"v","type":"quantitative","scale":{"domain":[-14,280],"nice":false,"zero":false},"axis":{"title":"mAU","values":[-10,0,10,20,30,40,50,60,70,80,90,100,110,120,130,140,150,160,170,180,190,200,210,220,230,240,250,260,270,280],"labelExpr":"datum.value % 50 === 0 ? toString(datum.value) : ''","tickSize":{"condition":{"test":"datum.value % 50 === 0","value":4},"value":2}}}},
   "layer":[
    {"data":{"name":"h"},"mark":{"type":"line"}},
    {"data":{"name":"lh"},"mark":{"type":"text","angle":270,"align":"left","baseline":"top","dx":3,"fontSize":8},"encoding":{"text":{"field":"lab"}}}
   ]},
  {"data":{"values":[{"note":"280nm, 4nm (1.00)"}]},"mark":{"type":"text","align":"left","baseline":"top","dy":5,"fontSize":8.5},
   "encoding":{"x":{"datum":1.4,"type":"quantitative","axis":{"title":"min","values":[0,10,20,30,40,50,60,70]}},
   "y":{"datum":280,"type":"quantitative","axis":{"title":"mAU","values":[-10,0,10,20,30,40,50,60,70,80,90,100,110,120,130,140,150,160,170,180,190,200,210,220,230,240,250,260,270,280],"labelExpr":"datum.value % 50 === 0 ? toString(datum.value) : ''","tickSize":{"condition":{"test":"datum.value % 50 === 0","value":4},"value":2}}},
   "text":{"field":"note"}}}
 ]}
]}
]}
]
}
